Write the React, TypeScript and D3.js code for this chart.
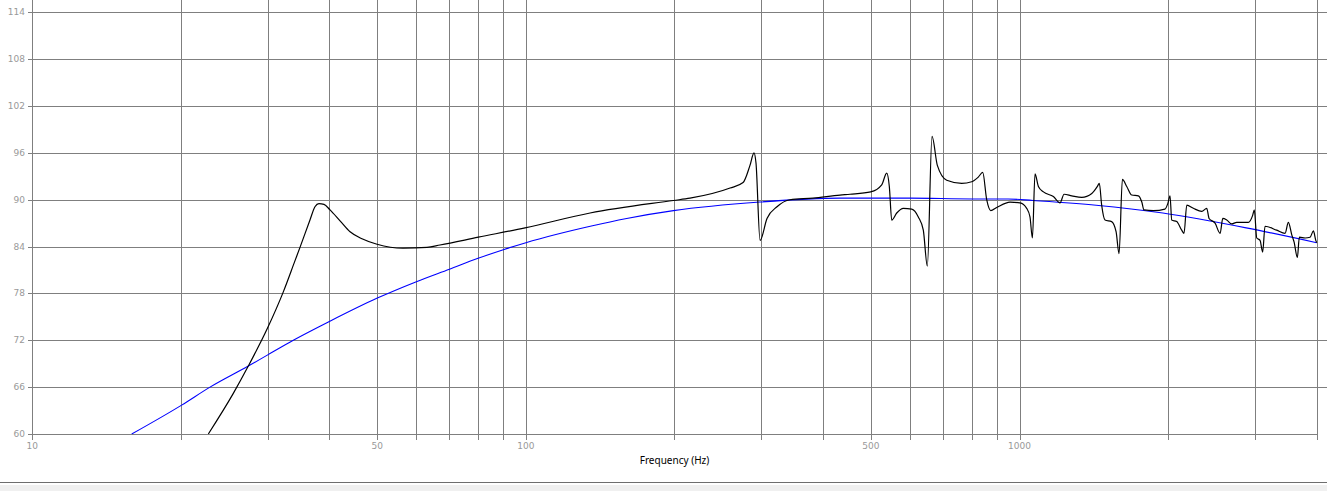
import React from "react";
import * as d3 from "d3";

const W = 1327;
const H = 491;

// Frequency response (black) – [Hz, dB]
const responseFreq = [
  22.73, 25.54, 27.39, 29.93, 32.25, 34.06, 34.86, 36.52, 37.38, 38.08, 38.99, 40.1, 42.02, 44.03, 46.55, 49.93,
  56.36, 63.04, 66.97, 80.1, 99.6, 134.9, 198.9, 215.0, 259.2, 275.4, 284.4, 289.8, 292.5, 298.1, 307.9, 322.6,
  342.8, 381.6, 432.9, 453.6, 499.5, 525.8, 538.2, 544.8, 551.0, 564.0, 581.6, 604.9, 623.7, 638.4, 650.5, 664.9,
  681.6, 712.1, 763.6, 800.1, 825.0, 842.3, 858.1, 874.3, 899.1, 956.9, 1002, 1034, 1050, 1062, 1075, 1092,
  1118, 1171, 1208, 1231, 1276, 1337, 1401, 1438, 1451, 1467, 1490, 1537, 1569, 1591, 1616, 1649,
  1688, 1741, 1769, 1787, 1867, 1971, 1997, 2018, 2034, 2082, 2131, 2154, 2182, 2250, 2340, 2395,
  2421, 2490, 2549, 2581, 2629, 2691, 2754, 2907, 2967, 2990, 3024, 3071, 3109, 3143, 3319, 3451,
  3505, 3561, 3599, 3655, 3689, 3789, 3878, 3939, 3983, 4000,
];
const responseDb = [
  60.0, 65.2, 68.7, 73.5, 78.2, 82.2, 83.9, 87.4, 89.1, 89.5, 89.4, 88.7, 87.3, 85.9, 85.0, 84.3,
  83.8, 83.9, 84.2, 85.2, 86.4, 88.3, 89.9, 90.2, 91.5, 92.2, 94.4, 96.0, 94.7, 84.8, 87.6, 89.1,
  90.0, 90.2, 90.6, 90.7, 91.0, 91.9, 93.4, 91.7, 87.4, 88.3, 88.9, 88.8, 87.8, 86.1, 81.5, 98.1,
  94.4, 92.5, 92.1, 92.3, 92.9, 93.5, 90.0, 88.6, 89.0, 89.7, 89.6, 88.9, 87.8, 85.1, 93.3, 91.7,
  91.0, 90.4, 89.6, 90.7, 90.5, 90.3, 90.8, 91.7, 92.1, 89.3, 87.4, 87.2, 85.9, 83.1, 92.6, 91.7,
  90.6, 90.5, 89.7, 88.7, 88.6, 88.8, 89.5, 90.5, 87.4, 87.2, 86.1, 85.7, 89.3, 88.9, 88.5, 88.9,
  87.6, 87.0, 85.7, 87.6, 87.4, 86.9, 87.1, 87.1, 88.0, 88.7, 85.1, 84.8, 83.3, 86.6, 86.1, 85.7,
  87.1, 85.5, 84.6, 82.6, 85.2, 85.1, 85.2, 86.0, 84.8, 84.5,
];

// Smooth target curve (blue) – [Hz, dB]
const targetFreq = [
  15.9, 20.07, 22.91, 27.39, 29.93, 33.79, 39.97, 50.0, 60, 70, 80, 90, 100, 135, 160, 199,
  298, 433, 600, 804, 948, 1065, 1430, 1951, 2879, 4000,
];
const targetDb = [
  60.0, 63.7, 66.0, 68.7, 70.1, 72.0, 74.4, 77.4, 79.5, 81.1, 82.5, 83.6, 84.5, 86.6, 87.6, 88.6,
  89.7, 90.2, 90.2, 90.1, 90.1, 89.9, 89.3, 88.3, 86.4, 84.5,
];

const yTicks = [60, 66, 72, 78, 84, 90, 96, 102, 108, 114];
const xGrid = [10, 20, 30, 40, 50, 60, 70, 80, 90, 100, 200, 300, 400, 500, 600, 700, 800, 900, 1000, 2000, 3000, 4000];
const xLabels = [10, 50, 100, 500, 1000];
const xTitle = "Frequency (Hz)";

export default function App() {
  const x = d3.scaleLog().domain([10, 4000]).range([32.3, 1316.7]);
  const y = d3.scaleLinear().domain([60, 114]).range([434, 12.3]);
  const px = (v: number) => Math.round(v) + 0.5;

  const respData = responseFreq.map((f, i) => [f, responseDb[i]] as [number, number]);
  const targData = targetFreq.map((f, i) => [f, targetDb[i]] as [number, number]);

  const lineSmooth = d3
    .line<[number, number]>()
    .x((d) => x(d[0]))
    .y((d) => y(d[1]))
    .curve(d3.curveMonotoneX);

  const gridColor = "#7f7f7f";
  const axisBottom = px(y(60));
  const left = px(x(10));
  const right = px(x(4000));

  return (
    <svg
      width={W}
      height={H}
      style={{ position: "absolute", left: 0, top: 0, background: "#fff" }}
      shapeRendering="crispEdges"
    >
      <defs>
        <clipPath id="plotClip">
          <rect x={left} y={0} width={right - left + 2} height={axisBottom} />
        </clipPath>
      </defs>
      <rect x={0} y={0} width={W} height={H} fill="#fff" />

      {/* horizontal grid */}
      {yTicks.map((t) => (
        <line
          key={"h" + t}
          x1={left - 5}
          x2={t === 60 ? right : W}
          y1={px(y(t))}
          y2={px(y(t))}
          stroke={gridColor}
          strokeWidth={1}
        />
      ))}
      {/* vertical grid */}
      {xGrid.map((f) => (
        <line
          key={"v" + f}
          x1={px(x(f))}
          x2={px(x(f))}
          y1={0}
          y2={axisBottom + 5}
          stroke={gridColor}
          strokeWidth={1}
        />
      ))}

      {/* y labels */}
      {yTicks.map((t) => (
        <text
          key={"yl" + t}
          x={25}
          y={y(t) + 3}
          textAnchor="end"
          fontFamily="DejaVu Sans, Verdana, sans-serif"
          fontSize={9}
          fill="#999"
        >
          {t}
        </text>
      ))}
      {/* x labels */}
      {xLabels.map((f) => (
        <text
          key={"xl" + f}
          x={x(f)}
          y={449}
          textAnchor="middle"
          fontFamily="DejaVu Sans, Verdana, sans-serif"
          fontSize={9}
          fill="#999"
        >
          {f}
        </text>
      ))}

      <text
        x={x(200)}
        y={464}
        textAnchor="middle"
        fontFamily="Noto Sans, Open Sans, sans-serif"
        fontSize={10}
        fill="#000"
      >
        {xTitle}
      </text>

      {/* curves */}
      <g clipPath="url(#plotClip)" shapeRendering="auto">
        <path d={lineSmooth(targData) || ""} fill="none" stroke="#0000ff" strokeWidth={1.1} />
        <path d={lineSmooth(respData) || ""} fill="none" stroke="#000" strokeWidth={1.2} strokeLinejoin="round" />
      </g>

      {/* bottom status strip */}
      <line x1={0} x2={W} y1={482.5} y2={482.5} stroke="#6e6e6e" strokeWidth={1} />
      <rect x={0} y={485} width={W} height={H - 485} fill="#f0f0f0" />
    </svg>
  );
}
